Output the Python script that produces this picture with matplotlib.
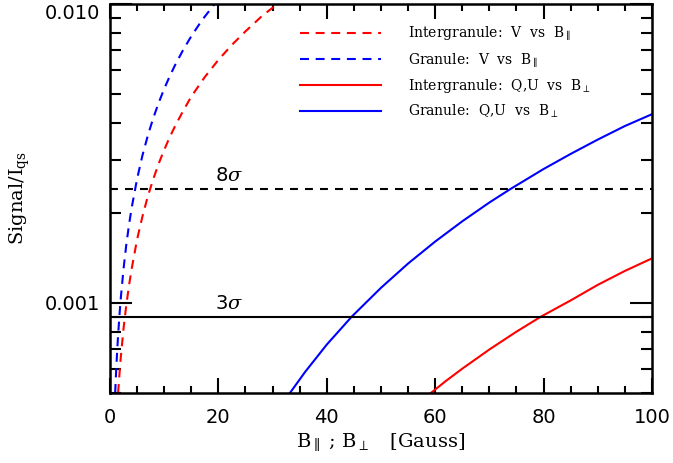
import matplotlib
matplotlib.use("Agg")
import matplotlib.pyplot as plt
from matplotlib.ticker import FixedLocator, NullFormatter

plt.rcParams["mathtext.fontset"] = "dejavuserif"

# ---- data ----
b_par_gran = [0.96, 1.1, 1.2, 1.35, 1.5, 1.75, 2, 2.5, 3, 3.5, 4, 5, 6, 7, 8, 9, 10,
              11, 12, 13.5, 15, 17, 19.5]
v_gran = [0.0005, 0.000572, 0.000624, 0.000702, 0.00078, 0.00091, 0.00104, 0.0013,
          0.00156, 0.00182, 0.00208, 0.0026, 0.00312, 0.00364, 0.00416, 0.00468,
          0.0052, 0.00572, 0.00624, 0.00702, 0.0078, 0.00884, 0.0101]

b_par_inter = [1.5, 1.75, 2, 2.5, 3, 3.5, 4, 5, 6, 7, 8, 9, 10, 11, 12, 13.5, 15,
               17.5, 20, 22.5, 25, 28, 31.5]
v_inter = [0.0005, 0.000578, 0.00066, 0.00082, 0.00098, 0.00114, 0.0013, 0.00163,
           0.00195, 0.00228, 0.0026, 0.00293, 0.00325, 0.00358, 0.0039, 0.00439,
           0.0049, 0.0057, 0.0065, 0.0073, 0.0081, 0.0091, 0.0102]

b_perp_gran = [33.2, 36, 40, 44.6, 50, 55, 60, 65, 70, 73.8, 80, 85, 90, 95, 100]
qu_gran = [0.0005, 0.000588, 0.000726, 0.0009, 0.001124, 0.001355, 0.001605,
           0.001876, 0.002168, 0.0024, 0.002806, 0.003152, 0.00352, 0.003907, 0.00428]

b_perp_inter = [59.2, 62, 65, 70, 75, 79.5, 85, 90, 95, 100]
qu_inter = [0.0005, 0.000549, 0.000603, 0.000699, 0.000802, 0.0009,
            0.00102, 0.00115, 0.00128, 0.00141]

sigma3 = 0.0009
sigma8 = 0.0024
sigma_labels = [r"3$\sigma$", r"8$\sigma$"]
sigma_label_x = 22

legend_labels = [r"Intergranule:  V  vs  B$_{\parallel}$",
                 r"Granule:  V  vs  B$_{\parallel}$",
                 r"Intergranule:  Q,U  vs  B$_{\perp}$",
                 r"Granule:  Q,U  vs  B$_{\perp}$"]

RED = (1.0, 0.0, 0.0)
BLUE = (0.0, 0.0, 1.0)

fig = plt.figure(figsize=(6.73, 4.63), dpi=100)
ax = fig.add_axes([0.1634, 0.1512, 0.9688 - 0.1634, 0.9914 - 0.1512])

lw = 1.5
dash = (4.3, 3.2)
ax.plot(b_par_inter, v_inter, color=RED, lw=lw, dashes=dash, label=legend_labels[0])
ax.plot(b_par_gran, v_gran, color=BLUE, lw=lw, dashes=dash, label=legend_labels[1])
ax.plot(b_perp_inter, qu_inter, color=RED, lw=lw, label=legend_labels[2])
ax.plot(b_perp_gran, qu_gran, color=BLUE, lw=lw, label=legend_labels[3])

ax.axhline(sigma3, color="black", lw=lw)
ax.axhline(sigma8, color="black", lw=lw, dashes=(3.8, 3.4))

for lab, yv in zip(sigma_labels, [sigma3, sigma8]):
    ax.annotate(lab, (sigma_label_x, yv), xytext=(0, 3), family="DejaVu Sans",
                textcoords="offset points", ha="center", va="bottom", fontsize=14)

ax.set_yscale("log")
ax.set_xlim(0, 100)
ax.set_ylim(0.0005, 0.01)

ax.set_xticks([0, 20, 40, 60, 80, 100])
ax.set_xticklabels(["0", "20", "40", "60", "80", "100"])
ax.xaxis.set_minor_locator(FixedLocator([v for v in range(0, 101, 5) if v % 20]))

ax.set_yticks([0.001, 0.01])
ax.set_yticklabels(["0.001", "0.010"])
ax.yaxis.set_minor_locator(FixedLocator([0.0005, 0.0006, 0.0007, 0.0008, 0.0009,
                                         0.002, 0.003, 0.004, 0.005, 0.006,
                                         0.007, 0.008, 0.009]))
ax.yaxis.set_minor_formatter(NullFormatter())

for sp in ax.spines.values():
    sp.set_linewidth(1.8)

ax.tick_params(axis="both", which="both", direction="in", top=True, right=True,
               width=1.5, labelsize=14, colors="black")
ax.tick_params(axis="x", which="major", length=10.8, pad=11)
ax.tick_params(axis="x", which="minor", length=5)
ax.tick_params(axis="y", which="major", length=15.8, pad=7)
ax.tick_params(axis="y", which="minor", length=8)

for lab in ax.get_yticklabels():
    if lab.get_text() == "0.010":
        lab.set_verticalalignment("top")

ax.set_xlabel(r"B$_{\parallel}$ ; B$_{\perp}$   [Gauss]", fontsize=14,
              family="DejaVu Serif", labelpad=3)
ax.set_ylabel(r"Signal/I$_{\rm qs}$", fontsize=14, family="DejaVu Serif", labelpad=9)

leg = ax.legend(loc="upper left", bbox_to_anchor=(0.3454, 0.954), frameon=False,
                prop={"family": "DejaVu Serif", "size": 10},
                handlelength=5.83, handletextpad=1.94, labelspacing=0.55,
                borderpad=0.2, borderaxespad=0)

fig.savefig("out.png", dpi=100)
